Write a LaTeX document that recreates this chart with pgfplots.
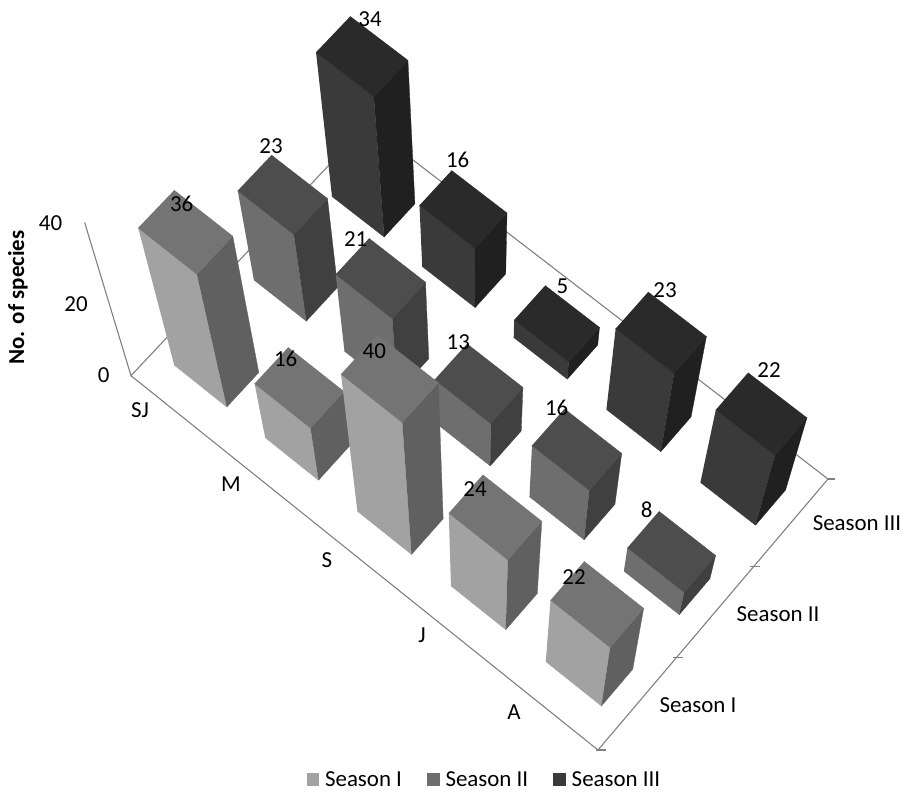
\documentclass[border=0pt]{standalone}
\usepackage{fontspec}
\setmainfont{Carlito}
\usepackage{pgfplots}
\usepackage{pgfplotstable}
\pgfplotsset{compat=1.18}

% Face shades: index 0, 1, 2 is Season I, II, III
\definecolor{front0}{HTML}{A2A2A2}\definecolor{top0}{HTML}{747474}\definecolor{side0}{HTML}{606060}
\definecolor{front1}{HTML}{6E6E6E}\definecolor{top1}{HTML}{4D4D4D}\definecolor{side1}{HTML}{404040}
\definecolor{front2}{HTML}{3A3A3A}\definecolor{top2}{HTML}{2A2A2A}\definecolor{side2}{HTML}{202020}
\definecolor{axisgrey}{HTML}{808080}

% One table per season: category index, species count, label position
\pgfplotstableread{
cat val lx ly
0 36 181.7 204
1 16 285.7 359
2 40 374.3 350.7
3 24 475 489.3
4 22 574 576.7
}\seasonI
\pgfplotstableread{
cat val lx ly
0 23 271 146
1 21 355.7 239
2 13 458.3 341.7
3 16 556.7 407.7
4 8 646.7 510
}\seasonII
\pgfplotstableread{
cat val lx ly
0 34 370 19.3
1 16 457.7 160
2 5 562.3 286
3 23 665 290
4 22 769 370
}\seasonIII

% Unit box faces; a and b run across the bar, t runs up it
\pgfplotstableread{
a b t
-1 -1 0
1 -1 0
1 -1 1
-1 -1 1
}\faceFront
\pgfplotstableread{
a b t
1 -1 0
1 1 0
1 1 1
1 -1 1
}\faceSide
\pgfplotstableread{
a b t
-1 -1 1
1 -1 1
1 1 1
-1 1 1
}\faceTop
% Floor outline and value axis, in chart coordinates
\pgfplotstableread{
u v w
0 0 0
5 0 0
5 3 0
0 3 0
0 0 0
0 0 40
}\frameLines

\pgfplotsset{
  /pgf/declare function={
    dn(\u,\v,\w)=1-0.006828*\u+0.010017*\v-0.00294*\w;
    px(\u,\v,\w)=(89.316*\u+82.343*\v+131-1.40826*\w)/dn(\u,\v,\w);
    py(\u,\v,\w)=(69.74*\u-82.453*\v+375.7-4.48644*\w)/dn(\u,\v,\w);
  }
}

% One face of a bar: face table, colour, category, season, value
\newcommand{\barface}[5]{%
  \addplot[fill=#2,draw=#2,line width=0.3pt,forget plot] table[
    x expr={px(#3+0.5+0.29*\thisrow{a},#4+0.5+0.2*\thisrow{b},#5*\thisrow{t})},
    y expr={py(#3+0.5+0.29*\thisrow{a},#4+0.5+0.2*\thisrow{b},#5*\thisrow{t})}]{#1};
}
\newcommand{\drawbar}[3]{%
  \barface{\faceFront}{front#2}{#1}{#2}{#3}
  \barface{\faceSide}{side#2}{#1}{#2}{#3}
  \barface{\faceTop}{top#2}{#1}{#2}{#3}
}
% All five bars of a season, back to front
\newcommand{\drawseason}[2]{%
  \foreach \r in {0,...,4}{%
    \pgfplotstablegetelem{\r}{cat}\of{#1}\let\barcat\pgfplotsretval
    \pgfplotstablegetelem{\r}{val}\of{#1}\let\barval\pgfplotsretval
    \edef\call{\noexpand\drawbar{\barcat}{#2}{\barval}}\call
  }%
}
\newcommand{\lbl}{\fontsize{23}{26}\selectfont}

\begin{document}
\begin{tikzpicture}[every node/.append style={inner sep=0pt}]
\begin{axis}[
  scale only axis, width=903bp, height=792bp,
  xmin=0, xmax=903, ymin=0, ymax=792, y dir=reverse,
  hide axis, clip=false,
  legend columns=3,
  legend style={at={(axis cs:483.4,779.5)},anchor=center,draw=none,fill=none,
    font=\lbl,inner sep=0pt,overlay,
    nodes={inner sep=0pt,text depth=0pt},
    /tikz/every even column/.append style={column sep=25bp},
    /tikz/every odd column/.append style={column sep=6bp}},
  legend cell align=left,
  legend image code/.code={\fill[#1,draw=none] (0bp,-6.2bp) rectangle (12.5bp,6.2bp);},
]
\path (axis cs:0,0) rectangle (axis cs:903,792);

\addplot[axisgrey,line width=1.1pt,forget plot] table[
  x expr={px(\thisrow{u},\thisrow{v},\thisrow{w})},
  y expr={py(\thisrow{u},\thisrow{v},\thisrow{w})}]{\frameLines};
\addplot[axisgrey,line width=1.1pt,forget plot] coordinates {(596,750)(606,750)};
\addplot[axisgrey,line width=1.1pt,forget plot] coordinates {(673,657.7)(683,657.7)};
\addplot[axisgrey,line width=1.1pt,forget plot] coordinates {(750,566.7)(760,566.7)};
\addplot[axisgrey,line width=1.1pt,forget plot] coordinates {(828,479)(835,479)};

\drawseason{\seasonIII}{2}
\drawseason{\seasonII}{1}
\drawseason{\seasonI}{0}

% Value labels above the bars
\foreach \t in {\seasonIII,\seasonII,\seasonI}{%
  \edef\call{\noexpand\addplot[only marks,mark=none,forget plot,point meta=explicit symbolic,
    nodes near coords,nodes near coords style={font=\noexpand\lbl,anchor=center,inner sep=0pt}]
    table[x=lx,y=ly,meta=val]{\expandafter\noexpand\t};}\call
}

% Legend swatches
\addlegendimage{fill=front0}\addlegendentry{Season I}
\addlegendimage{fill=front1}\addlegendentry{Season II}
\addlegendimage{fill=front2}\addlegendentry{Season III}

% Category, season and value tick labels
\node[font=\lbl] at (axis cs:140,410.5) {SJ};
\node[font=\lbl] at (axis cs:231,484) {M};
\node[font=\lbl] at (axis cs:327,560) {S};
\node[font=\lbl] at (axis cs:422,635) {J};
\node[font=\lbl] at (axis cs:514,712) {A};
\node[font=\lbl] at (axis cs:698,705) {Season I};
\node[font=\lbl] at (axis cs:778,614) {Season II};
\node[font=\lbl] at (axis cs:857,523) {Season III};
\node[font=\lbl] at (axis cs:103.7,375) {0};
\node[font=\lbl] at (axis cs:76,304) {20};
\node[font=\lbl] at (axis cs:50.5,223) {40};
\node[font=\lbl\bfseries,rotate=90] at (axis cs:18,297.5) {No. of species};
\end{axis}
\end{tikzpicture}
\end{document}
